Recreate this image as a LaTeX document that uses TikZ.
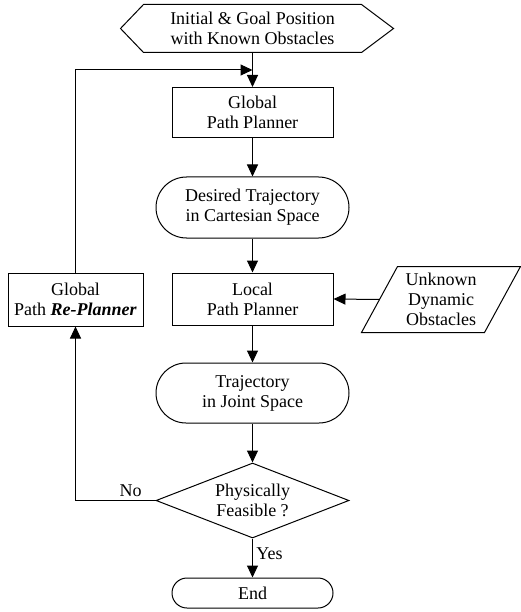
\documentclass[tikz,border=0pt]{standalone}
\usepackage{fontspec}
\setmainfont{Liberation Serif}
\usetikzlibrary{shapes.geometric, shapes.misc, arrows.meta}

\begin{document}
\begin{tikzpicture}[x = 1pt, y = - 1pt, align = center, line width = 1pt,
        font = \fontsize{18}{20}\selectfont,
        plain/.style = {inner sep = 0pt},
        box/.style = {draw, rectangle, inner sep = 0pt, minimum width = 161pt, minimum height = 50pt},
        term/.style = {draw, rounded rectangle, inner sep = 0pt, minimum width = 193pt, minimum height = 61pt},
        arr/.style = {-{Triangle[length = 12pt, width = 11pt]}}]
        \useasboundingbox (0, 0) rectangle (521, 612);

        \node[plain, minimum width = 217pt, minimum height = 47pt] (start) at (252.5, 28.5) {Initial \& Goal Position \\ with Known Obstacles};
        \draw ([xshift = - 23pt] start.west) -- (start.north west) -- (start.north east)
            -- ([xshift = 32pt] start.east) -- (start.south east) -- (start.south west) -- cycle;

        \node[box] (global) at (252.5, 112.5) {Global \\ Path Planner};
        \node[term] (desired) at (252.5, 207.5) {Desired Trajectory \\ in Cartesian Space};
        \node[box, minimum height = 52pt] (local) at (252.5, 299) {Local \\ Path Planner};
        \node[box, minimum width = 135pt, minimum height = 53pt] (replan) at (75.5, 299.5) {Global \\ Path \textbf{\textit{Re-Planner}}};

        \node[plain, minimum width = 122pt, minimum height = 65pt] (unknown) at (441, 299.5) {Unknown \\ Dynamic \\ Obstacles};
        \draw ([xshift = 18pt] unknown.north west) -- ([xshift = 18pt] unknown.north east)
            -- ([xshift = - 18pt] unknown.south east) -- ([xshift = - 18pt] unknown.south west) -- cycle;

        \node[term, minimum height = 60pt] (joint) at (252.5, 393) {Trajectory \\ in Joint Space};
        \node[draw, diamond, aspect = 2.6, inner sep = 0pt, minimum width = 193pt, minimum height = 75pt] (feasible) at (252.5, 500.5) {Physically \\ Feasible ?};
        \node[term, minimum width = 161pt, minimum height = 30pt] (end) at (252.5, 593) {End};

        \coordinate (merge) at (252.5, 70);

        \draw[arr] (start.south) -- (global.north);
        \draw[arr] (global.south) -- (desired.north);
        \draw[arr] (desired.south) -- (local.north);
        \draw[arr] (local.south) -- (joint.north);
        \draw[arr] (joint.south) -- (feasible.north);
        \draw[arr] (feasible.south) -- node[right, pos = 0.4] {Yes} (end.north);
        \draw[arr] (unknown.west) -- (local.east);
        \draw[arr] (feasible.west) -| node[above, pos = 0.155] {No} (replan.south);
        \draw[arr] (replan.north) |- (merge);
    \end{tikzpicture}
\end{document}
